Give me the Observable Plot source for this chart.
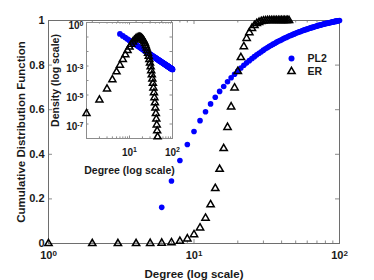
<!DOCTYPE html>
<html><head><meta charset="utf-8">
<script src="https://cdn.jsdelivr.net/npm/d3@7"></script>
<script src="https://cdn.jsdelivr.net/npm/@observablehq/plot@0.6"></script>
<style>
html,body{margin:0;padding:0;background:#fff;}
#chart{position:relative;width:374px;height:280px;overflow:hidden;}
#chart svg{position:absolute;}
</style></head><body><div id="chart"></div>
<script>
// ---- data ----
const seriesNames = ["PL2", "ER"];
const pl2Degree = [6,7,8,9,
  10,11,12,13,14,15,16,17,18,19,
  20,21,22,23,24,25,26,27,28,29,
  30,31,32,33,34,35,36,37,38,39,
  40,41,42,43,44,45,46,47,48,49,
  50,51,52,53,54,55,56,57,58,59,
  60,61,62,63,64,65,66,67,68,69,
  70,71,72,73,74,75,76,77,78,79,
  80,81,82,83,84,85,86,87,88,89,
  90,91,92,93,94,95,96,97,98,99,100];
const pl2Cdf = [0.162,0.280,0.372,0.444,
  0.502,0.551,0.591,0.626,0.656,0.682,0.704,0.725,0.743,0.759,
  0.773,0.787,0.799,0.810,0.820,0.829,0.838,0.846,0.853,0.860,
  0.867,0.873,0.879,0.884,0.889,0.894,0.898,0.903,0.907,0.910,
  0.914,0.918,0.921,0.924,0.927,0.930,0.933,0.935,0.938,0.940,
  0.943,0.945,0.947,0.949,0.951,0.953,0.955,0.957,0.958,0.960,
  0.962,0.963,0.965,0.966,0.968,0.969,0.970,0.972,0.973,0.974,
  0.975,0.977,0.978,0.979,0.980,0.981,0.982,0.983,0.984,0.985,
  0.986,0.987,0.987,0.988,0.989,0.990,0.991,0.991,0.992,0.993,
  0.994,0.994,0.995,0.996,0.996,0.997,0.998,0.998,0.999,0.999,1.000];
const pl2Density = [0.1621,0.1191,0.0912,0.0720,
  0.0584,0.0482,0.0405,0.0345,0.0298,0.0259,0.0228,0.0202,0.0180,0.0162,
  0.0146,0.0132,0.0121,0.0110,0.0101,0.00934,0.00863,0.00800,0.00744,0.00694,
  0.00648,0.00607,0.00570,0.00536,0.00505,0.00476,0.00450,0.00426,0.00404,0.00384,
  0.00365,0.00347,0.00331,0.00316,0.00301,0.00288,0.00276,0.00264,0.00253,0.00243,
  0.00233,0.00224,0.00216,0.00208,0.00200,0.00193,0.00186,0.00180,0.00173,0.00168,
  0.00162,0.00157,0.00152,0.00147,0.00142,0.00138,0.00134,0.00130,0.00126,0.00123,
  0.00119,0.00116,0.00113,0.00110,0.00107,0.00104,0.00101,0.000984,0.000959,0.000935,
  0.000912,0.000889,0.000868,0.000847,0.000827,0.000808,0.000789,0.000771,0.000754,0.000737,
  0.000720,0.000705,0.000689,0.000675,0.000660,0.000647,0.000633,0.000620,0.000608,0.000595,0.000584];
const erDegree = [1,2,3,4,5,6,7,8,9,
  10,11,12,13,14,15,16,17,18,19,
  20,21,22,23,24,25,26,27,28,29,
  30,31,32,33,34,35,36,37,38,39,
  40,41,42,43,44,45];
const erCdf = [0.000,0.000,0.000,0.000,0.001,0.002,0.004,0.010,0.021,
  0.040,0.070,0.114,0.174,0.247,0.333,0.426,0.521,0.613,0.698,
  0.772,0.834,0.883,0.920,0.946,0.965,0.978,0.987,0.992,0.996,
  0.998,0.999,1.000,1.000,1.000,1.000,1.000,1.000,1.000,1.000,
  1.000,1.000,1.000,1.000,1.000,1.000];
const erDensity = [5.3e-7,4.6e-6,2.65e-5,1.15e-4,3.96e-4,1.14e-3,2.82e-3,6.10e-3,0.0117,
  0.0203,0.0319,0.0460,0.0613,0.0757,0.0873,0.0944,0.0961,0.0923,0.0841,
  0.0727,0.0599,0.0471,0.0354,0.0255,0.0177,0.0118,0.00754,0.00466,0.00278,
  0.00160,8.9e-4,4.8e-4,2.5e-4,1.29e-4,6.4e-5,3.1e-5,1.43e-5,6.5e-6,2.9e-6,
  1.25e-6,5.3e-7,2.2e-7,8.7e-8,3.4e-8,1.3e-8];

const xMajorTicks = [1, 10, 100];
const xMajorLabels = ["10^0", "10^1", "10^2"];
const xMinorTicks = [2,3,4,5,6,7,8,9,20,30,40,50,60,70,80,90];
const yTicks = [0, 0.2, 0.4, 0.6, 0.8, 1];
const yTickLabels = ["0", "0.2", "0.4", "0.6", "0.8", "1"];
const insetXLabeled = [10, 100];
const insetXLabels = ["10^1", "10^2"];
const insetYDecades = [1e-8,1e-7,1e-6,1e-5,1e-4,1e-3,1e-2,1e-1,1];
const insetYLabeled = [1, 1e-3, 1e-5, 1e-7];
const insetYLabels = ["10^0", "10^-3", "10^-5", "10^-7"];
const mainXLabel = "Degree (log scale)";
const mainYLabel = "Cumulative Distribution Function";
const insetXLabel = "Degree (log scale)";
const insetYLabel = "Density (log scale)";

// ---- build ----
const pl2Main = pl2Degree.map((k, i) => ({k, v: pl2Cdf[i]}));
const erMain = erDegree.map((k, i) => ({k, v: erCdf[i]}));
const pl2Ins = pl2Degree.map((k, i) => ({k, v: pl2Density[i]}));
const erIns = erDegree.map((k, i) => ({k, v: erDensity[i]}));

const FONT = "'Liberation Sans', Arial, Helvetica, sans-serif";
const TXT = "#1a1a1a";
const AX = "#6e6e6e";

function inward(xMaj, xMin, yMaj, yMin, fw, fh, major, minor, stroke) {
  const m = [];
  const sw = 0.8;
  m.push(Plot.tickX(xMaj, {x: d => d, insetTop: fh - major, stroke, strokeWidth: sw}));
  m.push(Plot.tickX(xMaj, {x: d => d, insetBottom: fh - major, stroke, strokeWidth: sw}));
  m.push(Plot.tickX(xMin, {x: d => d, insetTop: fh - minor, stroke, strokeWidth: sw}));
  m.push(Plot.tickX(xMin, {x: d => d, insetBottom: fh - minor, stroke, strokeWidth: sw}));
  m.push(Plot.tickY(yMaj, {y: d => d, insetRight: fw - major, stroke, strokeWidth: sw}));
  m.push(Plot.tickY(yMaj, {y: d => d, insetLeft: fw - major, stroke, strokeWidth: sw}));
  if (yMin) {
    m.push(Plot.tickY(yMin, {y: d => d, insetRight: fw - minor, stroke, strokeWidth: sw}));
    m.push(Plot.tickY(yMin, {y: d => d, insetLeft: fw - minor, stroke, strokeWidth: sw}));
  }
  return m;
}

function supify(svg, size) {
  svg.querySelectorAll("text").forEach(t => {
    const m = /^10\^(.+)$/.exec(t.textContent);
    if (m) {
      t.textContent = "10";
      const ts = document.createElementNS("http://www.w3.org/2000/svg", "tspan");
      ts.setAttribute("dy", "-0.45em");
      ts.setAttribute("font-size", size);
      ts.textContent = m[1];
      t.appendChild(ts);
    }
  });
}

const W = 374, H = 280;
const ML = 48, MR = 35, MT = 20, MB = 37;
const FW = W - ML - MR, FH = H - MT - MB;

const main = Plot.plot({
  width: W, height: H,
  marginLeft: ML, marginRight: MR, marginTop: MT, marginBottom: MB,
  x: {type: "log", domain: [1, 100]},
  y: {domain: [0, 1]},
  style: {fontFamily: FONT, fontWeight: "bold", fontSize: "11px", color: TXT, background: "white", overflow: "visible"},
  marks: [
    ...inward(xMajorTicks, xMinorTicks, yTicks, null, FW, FH, 4, 2.5, AX),
    Plot.frame({stroke: AX, strokeWidth: 1}),
    Plot.axisX({ticks: xMajorTicks, tickFormat: d => xMajorLabels[xMajorTicks.indexOf(d)], tickSize: 0, tickPadding: 8, label: null}),
    Plot.axisY({ticks: yTicks, tickFormat: d => yTickLabels[yTicks.indexOf(d)], tickSize: 0, tickPadding: 4, label: null}),
    Plot.text([mainXLabel], {text: d => d, frameAnchor: "bottom", lineAnchor: "middle", dy: 31, fontSize: 11.5, fill: TXT}),
    Plot.text([mainYLabel], {text: d => d, frameAnchor: "left", textAnchor: "middle", lineAnchor: "middle", dx: -27, rotate: -90, fontSize: 11.5, fill: TXT}),
    Plot.dot(pl2Main, {x: "k", y: "v", r: 2.8, fill: "#0000ff"}),
    Plot.dot(erMain, {x: "k", y: "v", symbol: "triangle", r: 2.7, stroke: "black", strokeWidth: 1.5, fill: "none"})
  ]
});
supify(main, "8px");

const IW = 150, IH = 175, IL = 46, IR = 18, IT = 17, IB = 42;
const inset = Plot.plot({
  width: IW, height: IH,
  marginLeft: IL, marginRight: IR, marginTop: IT, marginBottom: IB,
  x: {type: "log", domain: [1, 100]},
  y: {type: "log", domain: [1e-8, 1]},
  style: {fontFamily: FONT, fontWeight: "bold", fontSize: "10px", color: TXT, background: "transparent", overflow: "visible"},
  marks: [
    Plot.frame({fill: "white"}),
    ...inward(xMajorTicks, xMinorTicks, insetYDecades, null, IW - IL - IR, IH - IT - IB, 2.5, 1.6, AX),
    Plot.frame({stroke: "#8c8c8c", strokeWidth: 1}),
    Plot.axisX({ticks: insetXLabeled, tickFormat: d => insetXLabels[insetXLabeled.indexOf(d)], tickSize: 0, tickPadding: 10, label: null}),
    Plot.axisY({ticks: insetYLabeled, tickFormat: d => insetYLabels[insetYLabeled.indexOf(d)], tickSize: 0, tickPadding: 3, dy: 3, label: null}),
    Plot.text([insetXLabel], {text: d => d, frameAnchor: "bottom", lineAnchor: "middle", dy: 32, fontSize: 10.5, fill: TXT}),
    Plot.text([insetYLabel], {text: d => d, frameAnchor: "left", textAnchor: "middle", lineAnchor: "middle", dx: -31, rotate: -90, fontSize: 10.5, fill: TXT}),
    Plot.dot(pl2Ins, {x: "k", y: "v", r: 2.9, fill: "#0000ff"}),
    Plot.dot(erIns, {x: "k", y: "v", symbol: "triangle", r: 2.6, stroke: "black", strokeWidth: 1.5, fill: "none"})
  ]
});
supify(inset, "7px");
inset.style.left = "40px";
inset.style.top = "5px";

const legend = Plot.plot({
  width: 80, height: 40, margin: 0,
  y: {type: "point", domain: seriesNames, range: [13, 26.5], padding: 0, axis: null},
  style: {fontFamily: FONT, fontWeight: "bold", fontSize: "10.5px", color: TXT, background: "transparent", overflow: "visible"},
  marks: [
    Plot.dot([seriesNames[0]], {y: d => d, frameAnchor: "left", dx: 11, r: 3, fill: "#0000ff"}),
    Plot.dot([seriesNames[1]], {y: d => d, frameAnchor: "left", dx: 11, symbol: "triangle", r: 2.7, stroke: "black", strokeWidth: 1.5, fill: "none"}),
    Plot.text(seriesNames, {y: d => d, text: d => d, frameAnchor: "left", dx: 27, textAnchor: "start", fill: TXT})
  ]
});
legend.style.left = "280px";
legend.style.top = "45px";

const chart = document.getElementById("chart");
main.style.left = "0px"; main.style.top = "0px";
chart.appendChild(main);
chart.appendChild(inset);
chart.appendChild(legend);
</script>
</body></html>
